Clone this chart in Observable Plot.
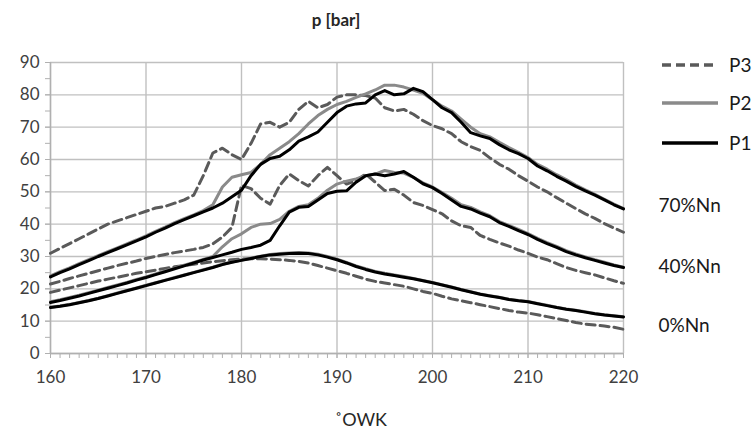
<!DOCTYPE html>
<html>
<head>
<meta charset="utf-8">
<script src="https://cdn.jsdelivr.net/npm/d3@7"></script>
<script src="https://cdn.jsdelivr.net/npm/@observablehq/plot@0.6"></script>
<style>
  body { margin: 0; background: #fff; font-family: Lato, "Open Sans", sans-serif; }
  #wrap { position: relative; width: 756px; height: 429px; }
  #title { position: absolute; left: 0; width: 672px; top: 9px; text-align: center; font-weight: bold; font-size: 17px; color: #262626; }
  #xlabel { position: absolute; left: 335px; top: 408px; font-size: 18px; color: #262626; }
  #legend { position: absolute; left: 655px; top: 48px; }
  #legend svg { overflow: visible; }
</style>
</head>
<body>
<div id="wrap">
  <div id="chart"></div>
  <div id="title">p [bar]</div>
  <div id="xlabel">˚OWK</div>
  <div id="legend"></div>
</div>
<script>
// crank angle (°OWK)
const angle = [160,161,162,163,164,165,166,167,168,169,170,171,172,173,174,175,176,177,178,179,180,
  181,182,183,184,185,186,187,188,189,190,191,192,193,194,195,196,197,198,199,200,
  201,202,203,204,205,206,207,208,209,210,211,212,213,214,215,216,217,218,219,220];

// 70 % Nn
const p3_70 = [31,32.5,34,35.5,37,38.5,40,41,42,43,44,45,45.5,46.5,47.5,49,55,62,63.5,61.5,60,
  65,71,71.5,70,71.5,75.5,78,76,77,79.3,80,80,79.8,79,76,75,75.5,74,72,70.5,
  69.5,68,65.5,64,62.8,60.5,58.5,57,55,53.3,51.5,50,48.2,46.5,44.8,43.2,41.8,40.2,38.8,37.5];
const p2_70 = [24,25.3,26.5,27.8,29,30.3,31.5,32.7,33.9,35.1,36.4,37.8,39.1,40.5,41.7,42.9,44.2,46,51.5,54.5,55.3,
  56,58.5,61.5,63.5,65.5,68,71,73.6,75.5,77,78,79.2,80.3,81.5,83,83,82.4,81.5,80.5,78.5,
  76.5,75,72.5,70,68,67,65.3,63.7,62.2,60.6,58.5,57,55.3,53.8,52.1,50.6,49.2,47.7,46.2,44.8];
const p1_70 = [23.7,25,26.2,27.5,28.7,30,31.2,32.4,33.6,34.8,36.1,37.5,38.8,40.2,41.4,42.6,43.8,45,46.5,48.5,50.5,
  55,58.5,60.3,61,63,65.7,67,68.5,71.5,74.5,76.5,77.2,77.5,80,81.3,80,80.3,82,81,78.5,
  76,74.5,71.5,68.3,67.3,66.5,64.6,63,61.8,60.3,58,56.5,54.8,53.3,51.7,50.3,49,47.5,46,44.7];

// 40 % Nn
const p3_40 = [21.5,22.3,23.2,24,24.8,25.6,26.4,27.2,27.9,28.6,29.4,30,30.6,31.2,31.7,32.2,32.8,33.9,36,39,52,
  51,48,46.2,52,55.5,53.5,51.8,55,57.6,55,52.4,53.5,55.5,53,50.4,50.8,49,46.7,45.8,44.5,
  43.2,41,39.5,39,36.5,35.3,34.2,33.2,32,31,29.8,29,27.8,26.6,25.7,25,24.3,23.4,22.5,21.7];
const p2_40 = [16,16.6,17.3,18,18.8,19.6,20.4,21.2,22,22.9,23.7,24.6,25.5,26.4,27.3,28.2,29.1,30,33,35.5,37,
  39,40,40.2,41.5,44,45.5,46,48,50.5,52.4,53.3,54,55,55.5,56.6,56,55.8,54.5,52.8,51.5,
  49.8,48,46,45.2,43.8,42.6,40.8,39.6,38.4,37.1,35.6,34.3,33.1,31.8,30.8,29.9,29,28.2,27.4,26.7];
const p1_40 = [15.8,16.4,17.1,17.8,18.6,19.4,20.2,21,21.8,22.7,23.5,24.4,25.3,26.2,27.1,28,28.9,29.7,30.5,31.3,32.2,
  32.8,33.5,35,39.5,43.7,45.2,45.5,47.5,49.5,50.2,50.3,53,55,55.5,55,55.5,56.3,54.5,52.5,51.3,
  49.5,47.5,45.5,44.7,43.4,42.3,40.5,39.3,38,36.8,35.3,34,32.8,31.5,30.5,29.6,28.8,28,27.2,26.6];

// 0 % Nn
const p3_0 = [18.9,19.6,20.3,21,21.7,22.4,23,23.6,24.2,24.8,25.3,25.8,26.3,26.8,27.2,27.6,28,28.4,28.7,29,29.2,
  29.3,29.3,29.2,29,28.8,28.5,28,27.2,26.4,25.6,24.8,23.9,23,22.3,21.8,21.3,20.8,20,19.2,18.6,
  17.7,16.9,16.3,15.7,15.1,14.5,13.9,13.3,12.8,12.5,12,11.4,10.8,10.2,9.6,9.1,8.8,8.5,8.1,7.5];
const p2_0 = [14.3,14.7,15.2,15.8,16.4,17.1,17.9,18.7,19.5,20.3,21.1,21.9,22.7,23.5,24.3,25.1,25.9,26.7,27.6,28.3,28.9,
  29.5,30.1,30.6,30.9,31.1,31.2,31.1,30.7,30,29.2,28.2,27.1,26.2,25.4,24.8,24.3,23.8,23.2,22.6,22,
  21.3,20.6,19.8,19.1,18.4,17.9,17.4,16.8,16.4,16.1,15.5,14.9,14.3,13.8,13.4,12.9,12.4,12,11.7,11.4];
const p1_0 = [14.2,14.6,15.1,15.7,16.3,17,17.8,18.6,19.4,20.2,21,21.8,22.6,23.4,24.2,25,25.8,26.6,27.5,28.2,28.8,
  29.4,30,30.5,30.7,30.9,31,30.9,30.5,29.8,29,28,26.9,26,25.2,24.6,24.1,23.6,23.1,22.5,21.9,
  21.2,20.5,19.7,19,18.3,17.8,17.3,16.7,16.3,16,15.4,14.8,14.2,13.7,13.3,12.8,12.3,11.9,11.6,11.3];

const probes = ["P3", "P2", "P1"];
const loadLabels = ["70%Nn", "40%Nn", "0%Nn"];
const loadLabelY = [45.7, 26.8, 8.6];

const xTicks = [160,170,180,190,200,210,220];
const yTicks = [0,10,20,30,40,50,60,70,80,90];

const seriesDefs = [
  {probe: "P3", load: "70", vals: p3_70}, {probe: "P2", load: "70", vals: p2_70}, {probe: "P1", load: "70", vals: p1_70},
  {probe: "P3", load: "40", vals: p3_40}, {probe: "P2", load: "40", vals: p2_40}, {probe: "P1", load: "40", vals: p1_40},
  {probe: "P3", load: "0", vals: p3_0}, {probe: "P2", load: "0", vals: p2_0}, {probe: "P1", load: "0", vals: p1_0}
];
const rows = seriesDefs.flatMap(s => s.vals.map((v, i) => ({angle: angle[i], p: v, probe: s.probe, key: s.probe + "_" + s.load})));

const style = {
  P3: {stroke: "#5a5a5a", strokeDasharray: "9,5"},
  P2: {stroke: "#8a8a8a", strokeDasharray: null},
  P1: {stroke: "#000000", strokeDasharray: null}
};

const lineMarks = probes.map(pr => Plot.line(rows.filter(r => r.probe === pr), {
  x: "angle", y: "p", z: "key", stroke: style[pr].stroke, strokeWidth: 3,
  strokeDasharray: style[pr].strokeDasharray, curve: "linear", strokeLinejoin: "round"
}));

const labelData = loadLabels.map((t, i) => ({t, y: loadLabelY[i]}));

const chart = Plot.plot({
  width: 756, height: 429,
  marginLeft: 50, marginRight: 133, marginTop: 62, marginBottom: 76,
  style: {fontFamily: "Lato, 'Open Sans', sans-serif", background: "#fff", overflow: "visible"},
  x: {domain: [160, 220]},
  y: {domain: [0, 90]},
  marks: [
    Plot.gridX(xTicks, {stroke: "#c0c0c0", strokeOpacity: 1, strokeWidth: 1.4}),
    Plot.gridY(yTicks, {stroke: "#c0c0c0", strokeOpacity: 1, strokeWidth: 1.4}),
    Plot.axisX(d3.range(160, 221, 1), {tickSize: 5, text: null, stroke: "#b0b0b0", label: null}),
    Plot.axisY(d3.range(0, 91, 5), {tickSize: 5, text: null, stroke: "#b0b0b0", label: null}),
    Plot.axisX(xTicks, {tickSize: 5, tickPadding: 12, fontSize: 17, stroke: "#b0b0b0", color: "#404040", label: null}),
    Plot.axisY(yTicks, {tickSize: 5, tickPadding: 6, fontSize: 17, stroke: "#b0b0b0", color: "#404040", label: null}),
    Plot.ruleX([160], {stroke: "#b0b0b0", strokeWidth: 1.4}),
    Plot.ruleY([0], {stroke: "#b0b0b0", strokeWidth: 1.4}),
    ...lineMarks,
    Plot.text(labelData, {x: () => 220, y: "y", text: "t", dx: 35, textAnchor: "start", fontSize: 19, fill: "#1a1a1a"})
  ]
});
document.getElementById("chart").appendChild(chart);

// legend
const legY = [17, 55, 95];
const ns = "http://www.w3.org/2000/svg";
const lsvg = document.createElementNS(ns, "svg");
lsvg.setAttribute("width", "101"); lsvg.setAttribute("height", "120");
probes.forEach((pr, i) => {
  const ln = document.createElementNS(ns, "line");
  ln.setAttribute("x1", 7); ln.setAttribute("x2", 63);
  ln.setAttribute("y1", legY[i]); ln.setAttribute("y2", legY[i]);
  ln.setAttribute("stroke", style[pr].stroke); ln.setAttribute("stroke-width", 3.5);
  if (style[pr].strokeDasharray) ln.setAttribute("stroke-dasharray", style[pr].strokeDasharray);
  lsvg.appendChild(ln);
  const tx = document.createElementNS(ns, "text");
  tx.setAttribute("x", 74); tx.setAttribute("y", legY[i]);
  tx.setAttribute("dy", "0.36em");
  tx.setAttribute("font-size", 19); tx.setAttribute("fill", "#1a1a1a");
  tx.setAttribute("font-family", "Lato, 'Open Sans', sans-serif");
  tx.textContent = pr;
  lsvg.appendChild(tx);
});
document.getElementById("legend").appendChild(lsvg);
</script>
</body>
</html>
